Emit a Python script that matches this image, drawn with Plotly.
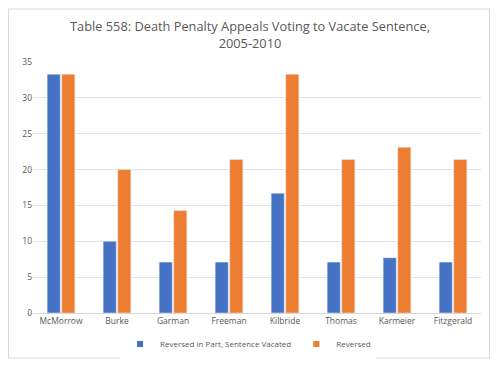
import plotly.graph_objects as go

categories = ["McMorrow", "Burke", "Garman", "Freeman", "Kilbride", "Thomas", "Karmeier", "Fitzgerald"]
vacated = [33.3, 10.0, 7.1, 7.1, 16.7, 7.1, 7.7, 7.1]
reversed_ = [33.3, 20.0, 14.3, 21.4, 33.3, 21.4, 23.1, 21.4]
series_names = ["Reversed in Part, Sentence Vacated", "Reversed"]
colors = ["#4472C4", "#ED7D31"]
title = "Table 558: Death Penalty Appeals Voting to Vacate Sentence,<br>2005-2010"

fig = go.Figure()
for vals, name, col in zip([vacated, reversed_], series_names, colors):
    fig.add_trace(go.Bar(x=categories, y=vals, name=name, marker_color=col, showlegend=False))
    fig.add_trace(go.Scatter(x=[None], y=[None], mode="markers", name=name,
                             marker=dict(symbol="square", size=6, color=col), showlegend=True))

L, R, T, B = 33, 19, 62, 53
W, H = 500, 366
pw, ph = W - L - R, H - T - B

def px(x):
    return (x - L) / pw

def py(y):
    return (H - B - y) / ph

border = dict(color="#D9D9D9", width=1)
fig.update_layout(
    width=W, height=H,
    margin=dict(l=L, r=R, t=T, b=B, autoexpand=False),
    paper_bgcolor="white", plot_bgcolor="white",
    font=dict(family="Open Sans, Liberation Sans, sans-serif", color="#595959", size=8.5),
    title=dict(text=title, x=0.5, xanchor="center", y=1 - 31 / H, yanchor="middle",
               font=dict(size=12.8, color="#595959")),
    barmode="group", bargap=0.48, bargroupgap=0.1,
    showlegend=True,
    legend=dict(orientation="h", x=0.48, xanchor="center", y=py(344), yanchor="middle",
                font=dict(size=8, color="#595959"), itemwidth=30, traceorder="normal"),
    xaxis=dict(showgrid=False, showline=True, linecolor="#D9D9D9", ticks="", automargin=False,
               tickfont=dict(size=8.5, color="#595959")),
    yaxis=dict(range=[0, 35], dtick=5, showgrid=True, gridcolor="#E4E4E4", zeroline=False,
               ticks="", showline=False, automargin=False, tickfont=dict(size=8.5, color="#595959")),
    shapes=[
        dict(type="line", xref="paper", yref="paper", x0=px(8), x1=px(490), y0=py(9), y1=py(9), line=border),
        dict(type="line", xref="paper", yref="paper", x0=px(8), x1=px(490), y0=py(358), y1=py(358), line=border),
        dict(type="line", xref="paper", yref="paper", x0=px(8.5), x1=px(8.5), y0=py(9), y1=py(358), line=border),
        dict(type="line", xref="paper", yref="paper", x0=px(489.5), x1=px(489.5), y0=py(9), y1=py(358), line=border),
    ],
)

fig.write_html("out.html", config={"displayModeBar": False},
               post_script="document.body.style.margin='0';document.body.style.overflow='hidden';")
